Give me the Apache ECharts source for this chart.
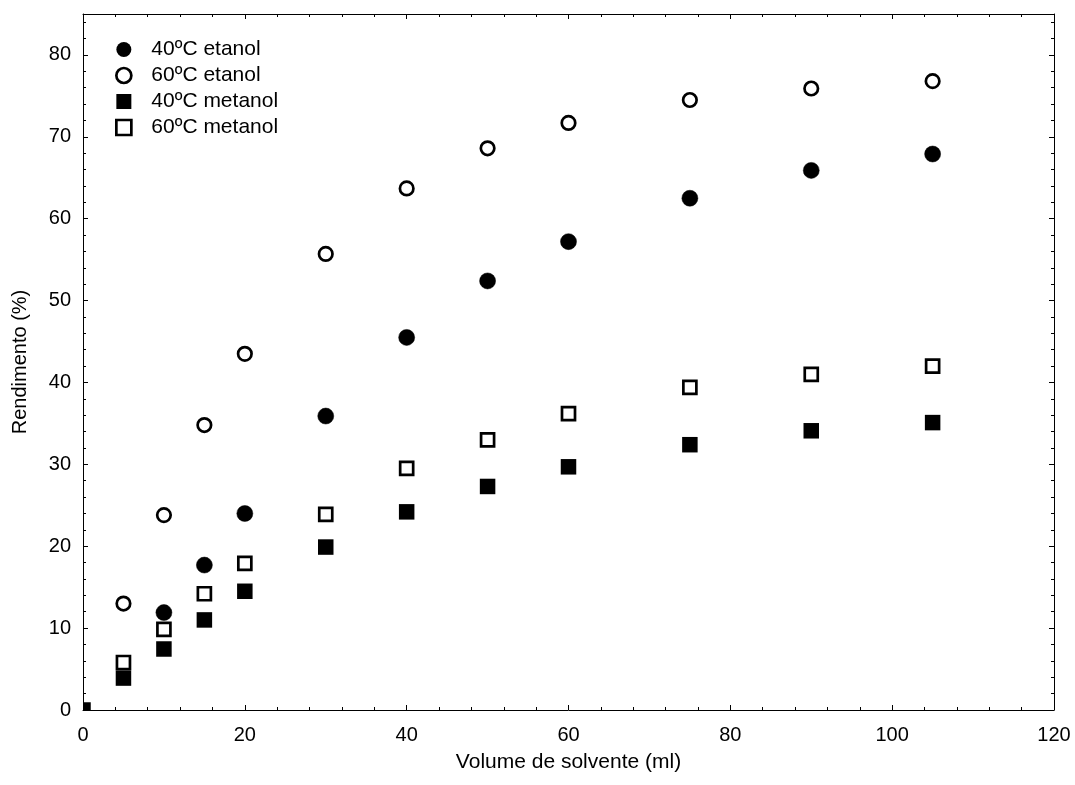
<!DOCTYPE html>
<html>
<head>
<meta charset="utf-8">
<script src="https://cdn.jsdelivr.net/npm/echarts@6/dist/echarts.min.js"></script>
<style>
html,body{margin:0;padding:0;background:#fff;}
#chart{width:1075px;height:785px;}
</style>
</head>
<body>
<div id="chart"></div>
<script>
const seriesNames = ['40ºC etanol', '60ºC etanol', '40ºC metanol', '60ºC metanol'];
const x40E = [10, 15, 20, 30, 40, 50, 60, 75, 90, 105];
const y40E = [11.9, 17.7, 24.0, 35.9, 45.5, 52.4, 57.2, 62.5, 65.9, 67.9];
const x60E = [5, 10, 15, 20, 30, 40, 50, 60, 75, 90, 105];
const y60E = [13.0, 23.8, 34.8, 43.5, 55.7, 63.7, 68.6, 71.7, 74.5, 75.9, 76.8];
const x40M = [0, 5, 10, 15, 20, 30, 40, 50, 60, 75, 90, 105];
const y40M = [0, 3.9, 7.45, 11.0, 14.5, 19.9, 24.2, 27.3, 29.7, 32.4, 34.1, 35.1];
const x60M = [5, 10, 15, 20, 30, 40, 50, 60, 75, 90, 105];
const y60M = [5.8, 9.85, 14.2, 17.9, 23.9, 29.5, 33.0, 36.2, 39.4, 41.0, 42.0];

const pairs = (xs, ys) => xs.map((x, i) => [x, ys[i]]);
const font = 'Liberation Sans, Arial, sans-serif';
const FS = 20;

const chart = echarts.init(document.getElementById('chart'));

const axisCommon = {
  axisLine: { show: true, onZero: false, lineStyle: { color: '#000', width: 1 } },
  axisTick: { show: true, inside: true, length: 5, lineStyle: { color: '#000' } },
  minorTick: { show: true, splitNumber: 5, length: 3, lineStyle: { color: '#000' } },
  splitLine: { show: false },
  minorSplitLine: { show: false }
};

const filled = { color: '#000', borderColor: '#000', borderWidth: 0.5, opacity: 1 };
const open = { color: '#fff', borderColor: '#000', borderWidth: 2.7, opacity: 1 };

chart.setOption({
  backgroundColor: '#fff',
  animation: false,
  textStyle: { fontFamily: font, color: '#000' },
  grid: { left: 83, right: 21, top: 14, bottom: 75, containLabel: false },
  legend: {
    orient: 'vertical',
    left: 110,
    top: 34,
    itemWidth: 15,
    itemHeight: 15,
    itemGap: 5,
    itemStyle: { opacity: 1 },
    textStyle: { fontFamily: font, fontSize: 21, lineHeight: 20, color: '#000', padding: [0, 0, 0, 15] },
    data: [
      { name: seriesNames[0], icon: 'circle', itemStyle: { color: '#000', borderWidth: 0 } },
      { name: seriesNames[1], icon: 'circle', itemStyle: { color: '#fff', borderColor: '#000', borderWidth: 2.7 } },
      { name: seriesNames[2], icon: 'rect', itemStyle: { color: '#000', borderWidth: 0 } },
      { name: seriesNames[3], icon: 'rect', itemStyle: { color: '#fff', borderColor: '#000', borderWidth: 2.7 } }
    ]
  },
  xAxis: [
    Object.assign({
      type: 'value', min: 0, max: 120, interval: 20, position: 'bottom',
      name: 'Volume de solvente (ml)', nameLocation: 'middle', nameGap: 42,
      nameTextStyle: { fontFamily: font, fontSize: 21, color: '#000' },
      axisLabel: { fontFamily: font, fontSize: FS, color: '#000', margin: 15 }
    }, axisCommon),
    Object.assign({
      type: 'value', min: 0, max: 120, interval: 20, position: 'top',
      axisLabel: { show: false }
    }, axisCommon)
  ],
  yAxis: [
    Object.assign({
      type: 'value', min: 0, max: 85, interval: 10, position: 'left',
      name: 'Rendimento (%)', nameLocation: 'middle', nameGap: 53,
      nameTextStyle: { fontFamily: font, fontSize: 20, color: '#000' },
      axisLabel: { fontFamily: font, fontSize: FS, color: '#000', margin: 12, showMaxLabel: false,
        formatter: v => (v % 10 === 0 ? String(v) : '') }
    }, axisCommon),
    Object.assign({
      type: 'value', min: 0, max: 85, interval: 10, position: 'right',
      axisLabel: { show: false }
    }, axisCommon)
  ],
  series: [
    { name: seriesNames[0], type: 'scatter', symbol: 'circle', symbolSize: 16, itemStyle: filled, data: pairs(x40E, y40E) },
    { name: seriesNames[1], type: 'scatter', symbol: 'circle', symbolSize: 13.5, itemStyle: open, data: pairs(x60E, y60E) },
    {
      name: seriesNames[2], type: 'custom', itemStyle: { color: '#000', opacity: 1 },
      data: pairs(x40M, y40M),
      encode: { x: 0, y: 1 },
      renderItem: function (params, api) {
        const p = api.coord([api.value(0), api.value(1)]);
        const s = 15.5;
        const cs = params.coordSys;
        const r = echarts.graphic.clipRectByRect(
          { x: p[0] - s / 2, y: p[1] - s / 2, width: s, height: s },
          { x: cs.x, y: cs.y, width: cs.width, height: cs.height }
        );
        return r ? { type: 'rect', shape: r, style: { fill: '#000' } } : null;
      }
    },
    { name: seriesNames[3], type: 'scatter', symbol: 'rect', symbolSize: 13, itemStyle: open, data: pairs(x60M, y60M) }
  ]
});
</script>
</body>
</html>
